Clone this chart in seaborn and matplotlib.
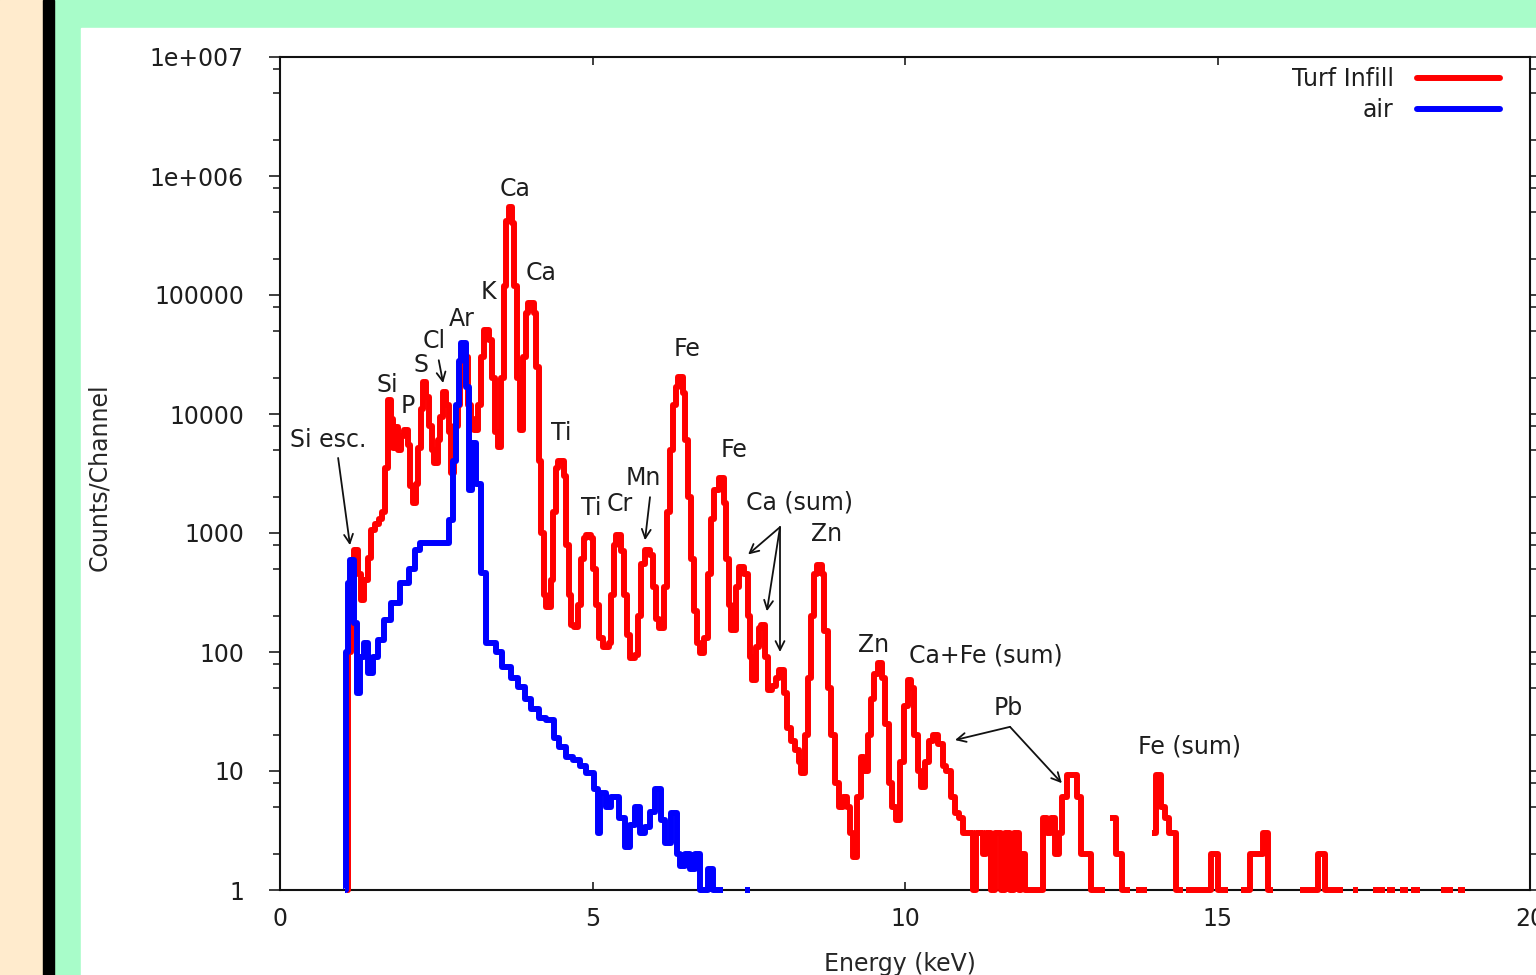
import numpy as np
import pandas as pd
import matplotlib
matplotlib.use('Agg')
import matplotlib.pyplot as plt
import seaborn as sb
from matplotlib.patches import Rectangle
from matplotlib.lines import Line2D
from matplotlib.ticker import LogLocator, NullFormatter, NullLocator

nan = np.nan

# Turf infill spectrum, energy (keV) where each step starts, counts per channel
turf_energy = [1.07, 1.09, 1.13, 1.18, 1.25, 1.29, 1.34, 1.40, 1.46, 1.52, 1.58, 1.63, 1.68, 1.72, 1.77,
               1.81, 1.85, 1.89, 1.93, 1.98, 2.04, 2.08, 2.12, 2.17, 2.21, 2.25, 2.29, 2.34, 2.38, 2.43,
               2.47, 2.52, 2.56, 2.60, 2.66, 2.70, 2.74, 2.79, 2.84, 2.88, 2.94, 3.00, 3.05, 3.11, 3.17,
               3.22, 3.27, 3.34, 3.39, 3.44, 3.49, 3.54, 3.58, 3.62, 3.66, 3.71, 3.75, 3.79, 3.84, 3.89,
               3.94, 3.97, 4.06, 4.10, 4.14, 4.18, 4.22, 4.26, 4.33, 4.37, 4.41, 4.45, 4.54, 4.58, 4.62,
               4.66, 4.70, 4.76, 4.81, 4.86, 4.90, 4.97, 5.01, 5.05, 5.10, 5.16, 5.26, 5.30, 5.34, 5.38,
               5.45, 5.50, 5.55, 5.60, 5.68, 5.72, 5.78, 5.84, 5.92, 5.97, 6.02, 6.06, 6.14, 6.19, 6.24,
               6.29, 6.34, 6.37, 6.44, 6.48, 6.52, 6.57, 6.62, 6.67, 6.72, 6.79, 6.84, 6.89, 6.94, 7.02,
               7.10, 7.14, 7.18, 7.22, 7.29, 7.35, 7.43, 7.48, 7.52, 7.55, 7.61, 7.66, 7.70, 7.76, 7.81,
               7.87, 7.93, 7.99, 8.07, 8.11, 8.18, 8.24, 8.30, 8.34, 8.40, 8.45, 8.49, 8.54, 8.59, 8.67,
               8.71, 8.76, 8.82, 8.88, 8.94, 9.00, 9.07, 9.12, 9.17, 9.23, 9.29, 9.34, 9.40, 9.45, 9.50,
               9.56, 9.63, 9.68, 9.74, 9.79, 9.85, 9.92, 9.98, 10.04, 10.10, 10.15, 10.21, 10.26, 10.32, 10.38,
               10.44, 10.52, 10.60, 10.66, 10.74, 10.80, 10.86, 10.93, 11.00, 11.08, 11.13, 11.24, 11.30, 11.38, 11.44,
               11.54, 11.60, 11.68, 11.74, 11.82, 11.86, 11.92, 12.20, 12.27, 12.33, 12.40, 12.46, 12.51, 12.59, 12.75,
               12.81, 12.98, 13.20, 13.28, 13.38, 13.47, 13.60, 13.70, 13.87, 13.95, 14.02, 14.10, 14.16, 14.22, 14.33,
               14.44, 14.49, 14.89, 15.00, 15.17, 15.38, 15.52, 15.72, 15.81, 15.89, 16.32, 16.61, 16.72, 17.00, 17.17,
               17.25, 17.49, 17.68, 17.71, 17.84, 17.92, 18.05, 18.10, 18.24, 18.57, 18.76, 18.85, 18.96]
turf_counts = [1, 100, 300, 720, 450, 275, 400, 620, 1060, 1200, 1300, 1500, 3500, 13000, 9000,
               5200, 7800, 5000, 6500, 7400, 5500, 2500, 1800, 2600, 5200, 11000, 18600, 14000, 8000, 5000,
               3900, 6000, 9500, 15200, 12000, 7000, 3200, 8000, 12000, 25000, 30000, 12000, 9000, 7300, 12000,
               30000, 50600, 42000, 20000, 7000, 5300, 20000, 120000, 420000, 550000, 400000, 120000, 20000, 7300, 30000,
               70000, 85000, 70000, 25000, 4000, 1000, 300, 240, 400, 1500, 3500, 4000, 3000, 800, 300,
               170, 162, 250, 600, 900, 960, 900, 500, 250, 130, 110, 120, 300, 800, 960,
               700, 300, 140, 89, 95, 200, 550, 720, 650, 350, 190, 160, 350, 1500, 5000,
               12000, 17000, 20400, 15000, 6000, 2000, 600, 220, 120, 98, 130, 450, 1300, 2300, 2900,
               1800, 600, 250, 152, 350, 520, 450, 200, 90, 58, 110, 160, 168, 90, 48,
               52, 60, 70, 45, 23, 18, 15, 12, 9.6, 20, 60, 200, 450, 540, 450,
               150, 50, 20, 8, 5, 6, 5, 3, 1.9, 6, 13, 10, 20, 40, 65,
               81, 60, 25, 8, 5, 3.9, 12, 35, 58, 50, 20, 10, 7.4, 12, 18,
               20, 17, 11, 10, 6, 4.4, 4, 3, 3, 1, 3, 2, 3, 1, 3,
               1, 3, 1, 3, 1, 2, 1, 4, 3, 4, 2, 3, 6, 9.3, 6,
               2, 1, nan, 4, 2, 1, nan, 1, nan, 3, 9.3, 5, 4, 3, 1,
               nan, 1, 2, 1, nan, 1, 2, 3, 1, nan, 1, 2, 1, nan, 1,
               nan, 1, nan, 1, nan, 1, nan, 1, nan, 1, nan, 1, nan]

# air spectrum
air_energy = [1.04, 1.06, 1.09, 1.12, 1.19, 1.23, 1.28, 1.34, 1.41, 1.48, 1.56, 1.66, 1.78, 1.92, 2.06,
              2.16, 2.24, 2.70, 2.76, 2.81, 2.86, 2.90, 2.98, 3.03, 3.07, 3.14, 3.22, 3.30, 3.45, 3.55,
              3.70, 3.80, 3.92, 4.02, 4.15, 4.25, 4.38, 4.46, 4.58, 4.68, 4.80, 4.90, 5.02, 5.08, 5.12,
              5.22, 5.30, 5.42, 5.52, 5.60, 5.68, 5.76, 5.84, 5.92, 6.00, 6.09, 6.16, 6.26, 6.35, 6.40,
              6.48, 6.56, 6.64, 6.72, 6.84, 6.92, 7.08, 7.44, 7.52]
air_counts = [1, 100, 380, 590, 175, 45, 91, 120, 66, 91, 126, 186, 258, 380, 500,
              720, 830, 1290, 4000, 12000, 28000, 39700, 16700, 2300, 5700, 2600, 460, 120, 100, 75,
              60, 51, 40, 33, 28, 27, 19, 16, 13, 12.4, 11, 9.6, 7, 3, 6.5,
              5, 6, 4, 2.3, 3.5, 5, 3, 3.4, 4.5, 7, 3.9, 2.5, 4.4, 2, 1.6,
              2, 1.5, 2, 1, 1.5, 1, nan, 1, nan]

series_names = ['Turf Infill', 'air']
series_colors = ['red', 'blue']

xticks = [0, 5, 10, 15, 20]
yticks = [1, 10, 100, 1000, 10000, 100000, 1e6, 1e7]
ytick_labels = ['1', '10', '100', '1000', '10000', '100000', '1e+006', '1e+007']

# peak labels: text, energy, counts
peak_labels = [('Si esc.', 0.77, 6000), ('Si', 1.71, 17500), ('P', 2.05, 11700), ('S', 2.26, 25700),
               ('Cl', 2.46, 41000), ('Ar', 2.91, 63000), ('K', 3.33, 105000), ('Ca', 3.76, 780000),
               ('Ca', 4.18, 152000), ('Ti', 4.50, 6900), ('Ti', 4.98, 1620), ('Cr', 5.44, 1740),
               ('Mn', 5.81, 2900), ('Fe', 6.51, 35000), ('Fe', 7.26, 5000), ('Ca (sum)', 8.32, 1820),
               ('Zn', 8.75, 980), ('Zn', 9.50, 115), ('Ca+Fe (sum)', 11.30, 94), ('Pb', 11.66, 34),
               ('Fe (sum)', 14.56, 16.2)]
# arrows: from (energy, counts) to (energy, counts)
arrows = [((0.93, 4270), (1.12, 790)), ((2.54, 28300), (2.61, 18200)), ((5.92, 2000), (5.84, 870)),
          ((8.0, 1120), (7.49, 660)), ((8.0, 1120), (7.79, 220)), ((8.0, 1120), (8.0, 100)),
          ((11.68, 23.5), (10.8, 18.2)), ((11.68, 23.5), (12.51, 7.9))]


def step_frame(energy, counts, name):
    # split the spectrum at empty channels so the line breaks there
    rows = []
    seg = 0
    prev = None
    for e, c in zip(energy, counts):
        if np.isnan(c):
            if prev is not None:
                rows.append((e, prev, name + str(seg)))
            seg += 1
            prev = None
        else:
            rows.append((e, c, name + str(seg)))
            prev = c
    return pd.DataFrame(rows, columns=['energy', 'counts', 'seg'])


sb.set_theme(style='ticks')
plt.rcParams['font.family'] = ['DejaVu Sans']
plt.rcParams['text.color'] = '#1e1e1e'

fig = plt.figure(figsize=(15.36, 9.75), dpi=100)
fig.patch.set_facecolor('#a8fcc9')
fig.add_artist(Rectangle((0, 0), 43 / 1536, 1, transform=fig.transFigure, color='#ffebcd', zorder=-5))
fig.add_artist(Rectangle((43 / 1536, 0), 11 / 1536, 1, transform=fig.transFigure, color='black', zorder=-5))
fig.add_artist(Rectangle((81 / 1536, 0), 1 - 81 / 1536, 1 - 28 / 975, transform=fig.transFigure,
                         color='white', zorder=-5))

ax = fig.add_axes([280 / 1536, 1 - 890 / 975, 1250 / 1536, 833 / 975])
ax.set_yscale('log')

turf = step_frame(turf_energy, turf_counts, 'turf')
air = step_frame(air_energy, air_counts, 'air')
sb.lineplot(data=turf, x='energy', y='counts', units='seg', estimator=None, sort=False,
            color=series_colors[0], lw=4.3, drawstyle='steps-post', legend=False, ax=ax)
sb.lineplot(data=air, x='energy', y='counts', units='seg', estimator=None, sort=False,
            color=series_colors[1], lw=4.3, drawstyle='steps-post', legend=False, ax=ax)
for ln in ax.lines:
    ln.set_clip_on(False)
    ln.set_zorder(3)
    ln.set_solid_capstyle('butt')

ax.set_xlim(0, 20)
ax.set_ylim(1, 1e7)
ax.set_xticks(xticks)
ax.set_xticklabels([str(t) for t in xticks])
ax.xaxis.set_minor_locator(NullLocator())
ax.set_yticks(yticks)
ax.set_yticklabels(ytick_labels)
ax.yaxis.set_minor_locator(LogLocator(base=10, subs=[2, 5, 8]))
ax.yaxis.set_minor_formatter(NullFormatter())

ax.tick_params(axis='x', direction='in', top=True, bottom=True, length=6, width=1.2,
               labelsize=17, pad=12, colors='#1e1e1e')
ax.tick_params(axis='y', which='major', direction='out', left=True, right=True, length=8, width=1.2,
               labelsize=17, pad=18, colors='#1e1e1e')
ax.tick_params(axis='y', which='minor', direction='out', left=True, right=True, length=5, width=1.2)
for sp in ax.spines.values():
    sp.set_color('#111111')
    sp.set_linewidth(1.5)

ax.set_xlabel('Energy (keV)', fontsize=17)
ax.set_ylabel('Counts/Channel', fontsize=17)
ax.xaxis.set_label_coords(0.496, -0.074)
ax.yaxis.set_label_coords(-0.135, 0.495)

for txt, e, c in peak_labels:
    ax.text(e, c, txt, fontsize=17, ha='center', va='center')
for (e0, c0), (e1, c1) in arrows:
    ax.annotate('', xy=(e1, c1), xytext=(e0, c0),
                arrowprops=dict(arrowstyle='->', color='#111111', lw=1.3, shrinkA=0, shrinkB=0,
                                mutation_scale=16))

handles = [Line2D([], [], color=col, lw=4.3) for col in series_colors]
ax.legend(handles, series_names, loc='upper right', bbox_to_anchor=(0.976, 0.988), markerfirst=False,
          frameon=False, handlelength=3.5, handletextpad=1.0, labelspacing=0.3, fontsize=17,
          borderaxespad=0, borderpad=0)

plt.savefig('out.png', dpi=100)
